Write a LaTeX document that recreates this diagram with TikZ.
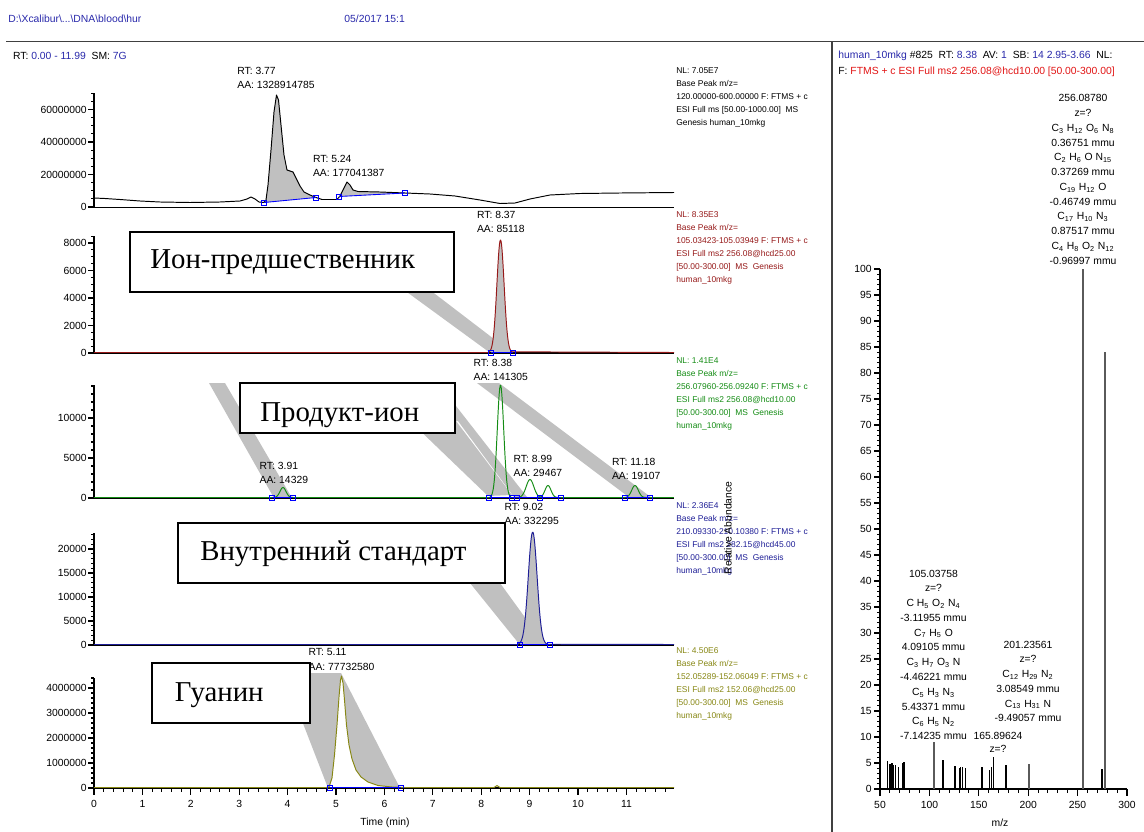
\documentclass[tikz,border=0pt]{standalone}
\usepackage{fontspec}
\setmainfont{Liberation Sans}
\newfontfamily\rufont{Liberation Serif}
\usepackage{tikz}
\usetikzlibrary{positioning}
\definecolor{xcBlue}{RGB}{40,40,170}
\definecolor{xcRed}{RGB}{150,25,25}
\definecolor{xcSpecRed}{RGB}{225,20,20}
\definecolor{xcGreen}{RGB}{20,140,20}
\definecolor{xcNavy}{RGB}{30,30,150}
\definecolor{xcOlive}{RGB}{135,135,20}
\definecolor{xcMark}{RGB}{0,0,255}
\definecolor{xcBand}{RGB}{192,192,192}
\definecolor{xcStick}{RGB}{90,90,90}
\newcommand{\ix}[1]{\textsubscript{#1}}
\newcommand{\intbox}[2]{\draw[intmark] ({#1-2.5},{#2-2.5}) rectangle ({#1+2.5},{#2+2.5});}

\begin{document}
\begin{tikzpicture}[x=0.02cm, y=-0.02cm,
    every node/.style={inner sep=0pt, font=\fontsize{5.9}{8.1}\selectfont},
    info/.style={font=\fontsize{4.8}{7.4}\selectfont, align=left, anchor=north west},
    pklbl/.style={align=left, anchor=north west},
    annot/.style={font=\fontsize{5.9}{8.4}\selectfont, align=center, anchor=north},
    callout/.style={draw=black, line width=1.1pt, fill=white},
    rutext/.style={font=\rufont\fontsize{16.4}{20}\selectfont, anchor=base west},
    band/.style={fill=xcBand},
    axisln/.style={line width=0.6pt, black},
    trace/.style={line width=0.55pt, line join=round},
    intmark/.style={draw=xcMark, line width=0.5pt},
    stick/.style={line width=0.6pt}
]
\useasboundingbox (0,0) rectangle (1144,832);

% header
\node[anchor=west, text=xcBlue] (hdrPath) at (8,19) {D:\textbackslash Xcalibur\textbackslash ...\textbackslash DNA\textbackslash blood\textbackslash hur};
\node[anchor=west, text=xcBlue] (hdrDate) at (344,19) {05/2017 15:1};
\draw[line width=0.8pt, black!75] (6,41.7) -- (1144,41.7);
\draw[line width=0.8pt, black!75] (832,41.7) -- (832,832);
\node[anchor=west] (hdrRange) at (12.7,56) {RT:~\textcolor{xcBlue}{0.00 - 11.99}~~SM:~\textcolor{xcBlue}{7G}};
\node[anchor=west] (specHdr) at (838,55.7) {\textcolor{xcBlue}{human\_10mkg} \#825~~RT:~\textcolor{xcBlue}{8.38}~~AV:~\textcolor{xcBlue}{1}~~SB:~\textcolor{xcBlue}{14 2.95-3.66}~~NL:};
\node[anchor=west] (specScan) at (838,71.7) {F:~\textcolor{xcSpecRed}{FTMS + c ESI Full ms2 256.08@hcd10.00 [50.00-300.00]}};

% callout bands
\fill[band] (400,287) -- (426,287) -- (511,352) -- (489,352) -- cycle;
\fill[band] (209,383) -- (225,383) -- (292,498) -- (274,498) -- cycle;
\fill[band] (410,421) -- (456,421) -- (512,495) -- (488,496) -- cycle;
\fill[band] (455,404.7) -- (527,497) -- (514,497) -- (458,421) -- (455,421) -- cycle;
\fill[band] (477,383) -- (499,383) -- (652,498) -- (630,498) -- cycle;
\fill[band] (470,583) -- (500,583) -- (545,645) -- (520,645) -- cycle;
\fill[band] (283.5,673) -- (341,673) -- (400,788) -- (328,788) -- cycle;

% panel 1
\draw[axisln] (94,93) -- (94,207.5) -- (674,207.5);
\foreach \k in {0,...,14} {\draw[axisln] (91,{207-8.125*\k}) -- (94,{207-8.125*\k});}
\foreach \k/\t in {0/0,1/20000000,2/40000000,3/60000000} {
  \draw[axisln] (88,{207-32.5*\k}) -- (94,{207-32.5*\k});
  \node[anchor=east] (pa\k) at (87,{207-32.5*\k}) {\t};
}
\fill[xcBand] (264,202.5) -- (266,200) -- (268,185) -- (271,150) -- (274,112) -- (276.5,95) -- (278.5,100) -- (281,125) -- (284,155) -- (287,170) -- (290,171) -- (293,172) -- (296,178) -- (300,186) -- (304,192) -- (310,195) -- (316,197.5) -- cycle;
\fill[xcBand] (339,196.5) -- (340,196) -- (343,190) -- (347,182) -- (350,185) -- (353,190) -- (358,191.5) -- (380,192) -- (405,193) -- cycle;
\draw[trace] (94,198) -- (105,198.5) -- (120,199.5) -- (140,201) -- (160,202) -- (190,202.5) -- (220,202) -- (240,201) -- (247,199) -- (251,197) -- (255,199) -- (259,202) -- (264,202.5) -- (266,200) -- (268,185) -- (271,150) -- (274,112) -- (276.5,95) -- (278.5,100) -- (281,125) -- (284,155) -- (287,170) -- (290,171) -- (293,172) -- (296,178) -- (300,186) -- (304,192) -- (310,195) -- (316,197.5) -- (322,199.5) -- (337,199.5) -- (340,196) -- (343,190) -- (347,182) -- (350,185) -- (353,190) -- (358,191.5) -- (380,192) -- (405,193) -- (430,194) -- (455,196) -- (480,200) -- (500,203.5) -- (515,203) -- (530,199) -- (550,195) -- (580,193.5) -- (620,193) -- (674,192.5);
\draw[intmark] (264,202.5) -- (316,197.5);
\draw[intmark] (339,196.5) -- (405,193);
\intbox{264}{202.5} \intbox{316}{197.5} \intbox{339}{196.5} \intbox{405}{193}

% panel 2
\draw[axisln] (94,236) -- (94,353) -- (674,353);
\foreach \k in {0,...,17} {\draw[axisln] (91,{353-6.875*\k}) -- (94,{353-6.875*\k});}
\foreach \k/\t in {0/0,1/2000,2/4000,3/6000,4/8000} {
  \draw[axisln] (88,{353-27.5*\k}) -- (94,{353-27.5*\k});
  \node[anchor=east] (pb\k) at (87,{353-27.5*\k}) {\t};
}
\fill[xcBand] plot[domain=491:511, samples=41] (\x,{352.5-112.5*exp(-0.5*((\x-500.5)/3.6)^2)}) -- cycle;
\draw[trace, xcRed] (94,352.5) -- (489,352.5) -- plot[domain=489:512, samples=47] (\x,{352.5-112.5*exp(-0.5*((\x-500.5)/3.6)^2)}) -- (674,352.5);
\draw[intmark] (491,352.5) -- (513,352.5);
\intbox{491}{352.5} \intbox{513}{352.5}

% panel 3
\draw[axisln] (94,385) -- (94,498) -- (674,498);
\foreach \k in {0,...,14} {\draw[axisln] (91,{498-8*\k}) -- (94,{498-8*\k});}
\foreach \k/\t in {0/0,1/5000,2/10000} {
  \draw[axisln] (88,{498-40*\k}) -- (94,{498-40*\k});
  \node[anchor=east] (pc\k) at (87,{498-40*\k}) {\t};
}
\draw[trace, xcGreen] (94,497.5) -- (674,497.5);
\foreach \c/\h/\s/\a/\b in {283/10/3/273/293, 500.5/112.5/3.2/490/511, 530/18/3.8/518/542, 548/12/3/538/558, 635/12/3.3/624/646} {
  \draw[trace, xcGreen] plot[domain=\a:\b, samples=40] (\x,{497.5-\h*exp(-0.5*((\x-\c)/\s)^2)});
}
\draw[intmark] (272,497.5) -- (293,497.5);
\draw[intmark] (489,497.5) -- (561,497.5);
\draw[intmark] (625,497.5) -- (650,497.5);
\foreach \m in {272,293,489,512,517,540,561,625,650} {\intbox{\m}{497.5}}

% panel 4
\draw[axisln] (94,533) -- (94,645) -- (674,645);
\foreach \k in {0,...,23} {\draw[axisln] (91,{645-4.8*\k}) -- (94,{645-4.8*\k});}
\foreach \k/\t in {0/0,1/5000,2/10000,3/15000,4/20000} {
  \draw[axisln] (88,{645-24*\k}) -- (94,{645-24*\k});
  \node[anchor=east] (pd\k) at (87,{645-24*\k}) {\t};
}
\fill[xcBand] plot[domain=520:547, samples=41] (\x,{644.5-112.5*exp(-0.5*((\x-532.7)/4.4)^2)}) -- cycle;
\draw[trace, xcNavy] (94,644.5) -- (518,644.5) -- plot[domain=518:548, samples=51] (\x,{644.5-112.5*exp(-0.5*((\x-532.7)/4.4)^2)}) -- (674,644.5);
\draw[intmark] (520,644.5) -- (550,644.5);
\intbox{520}{644.5} \intbox{550}{644.5}

% panel 5
\draw[axisln] (94,678) -- (94,788) -- (674,788);
\foreach \k in {0,...,22} {\draw[axisln] (91,{788-5*\k}) -- (94,{788-5*\k});}
\foreach \k/\t in {0/0,1/1000000,2/2000000,3/3000000,4/4000000} {
  \draw[axisln] (88,{788-25*\k}) -- (94,{788-25*\k});
  \node[anchor=east] (pe\k) at (87,{788-25*\k}) {\t};
}
\fill[white] (329,787) -- (332,778) -- (334.5,755) -- (337,725) -- (339,697) -- (340.5,680) -- (341.5,676) -- (343,683) -- (344.5,700) -- (346.5,725) -- (349,745) -- (352,759) -- (356,770) -- (361,777) -- (368,782) -- (378,785.5) -- (392,787) -- (400,787.5) -- cycle;
\draw[trace, xcOlive] (94,787.5) -- (326,787.5) -- (329,787) -- (332,778) -- (334.5,755) -- (337,725) -- (339,697) -- (340.5,680) -- (341.5,676) -- (343,683) -- (344.5,700) -- (346.5,725) -- (349,745) -- (352,759) -- (356,770) -- (361,777) -- (368,782) -- (378,785.5) -- (392,787) -- (405,787.5) -- (494,787.5) -- (497,785.5) -- (500,787.5) -- (674,787.5);
\draw[intmark] (330,787.5) -- (401,787.5);
\intbox{330}{787.5} \intbox{401}{787.5}

% time axis
\foreach \k in {0,...,59} {\draw[axisln] ({94+9.68*\k},788) -- ({94+9.68*\k},792);}
\foreach \k in {0,...,11} {
  \draw[axisln] ({94+48.4*\k},788) -- ({94+48.4*\k},795);
  \node (tx\k) at ({94+48.4*\k},804) {\k};
}
\node (timeLbl) at (385,822.5) {Time (min)};

% peak labels
\node[pklbl] (lbl377) at (237,67) {RT: 3.77\\AA: 1328914785};
\node[pklbl] (lbl524) at (312.7,155) {RT: 5.24\\AA: 177041387};
\node[pklbl] (lbl837) at (476.7,211) {RT: 8.37\\AA: 85118};
\node[pklbl] (lbl838) at (473.3,358.5) {RT: 8.38\\AA: 141305};
\node[pklbl] (lbl391) at (259.3,462) {RT: 3.91\\AA: 14329};
\node[pklbl] (lbl899) at (513.3,454.5) {RT: 8.99\\AA: 29467};
\node[pklbl] (lbl1118) at (611.7,458) {RT: 11.18\\AA: 19107};
\node[pklbl] (lbl902) at (504.3,503) {RT: 9.02\\AA: 332295};
\node[pklbl] (lbl511) at (308.3,648.5) {RT: 5.11\\AA: 77732580};

% trace info
\node[info] (info1) at (676,67) {NL: 7.05E7\\Base Peak m/z=\\120.00000-600.00000 F: FTMS + c\\ESI Full ms [50.00-1000.00]~~MS\\Genesis human\_10mkg};
\node[info, text=xcRed] (info2) at (676,211) {NL: 8.35E3\\Base Peak m/z=\\105.03423-105.03949 F: FTMS + c\\ESI Full ms2 256.08@hcd25.00\\{[}50.00-300.00]~~MS~~Genesis\\human\_10mkg};
\node[info, text=xcGreen] (info3) at (676,357.7) {NL: 1.41E4\\Base Peak m/z=\\256.07960-256.09240 F: FTMS + c\\ESI Full ms2 256.08@hcd10.00\\{[}50.00-300.00]~~MS~~Genesis\\human\_10mkg};
\node[info, text=xcNavy] (info4) at (676,502.7) {NL: 2.36E4\\Base Peak m/z=\\210.09330-210.10380 F: FTMS + c\\ESI Full ms2 282.15@hcd45.00\\{[}50.00-300.00]~~MS~~Genesis\\human\_10mkg};
\node[info, text=xcOlive] (info5) at (676,647.7) {NL: 4.50E6\\Base Peak m/z=\\152.05289-152.06049 F: FTMS + c\\ESI Full ms2 152.06@hcd25.00\\{[}50.00-300.00]~~MS~~Genesis\\human\_10mkg};
\node[rotate=90] (relAb) at (728,528) {Relative Abundance};

% callout boxes
\draw[callout] (130,232) rectangle (454,292);
\node[rutext] (txtPrec) at (150,268) {Ион-предшественник};
\draw[callout] (240,383) rectangle (455,433);
\node[rutext] (txtProd) at (260,421.7) {Продукт-ион};
\draw[callout] (178,523) rectangle (505,583);
\node[rutext] (txtIstd) at (200,560.7) {Внутренний стандарт};
\draw[callout] (152,663) rectangle (310,723);
\node[rutext] (txtGua) at (174.6,701.7) {Гуанин};

% spectrum axes
\draw[axisln] (880,269) -- (880,789) -- (1127,789);
\foreach \k in {0,...,100} {\draw[axisln] (877,{789-5.2*\k}) -- (880,{789-5.2*\k});}
\foreach \k in {0,...,20} {
  \draw[axisln] (874,{789-26*\k}) -- (880,{789-26*\k});
  \pgfmathtruncatemacro\lab{5*\k}
  \node[anchor=east] (sy\k) at (872,{789-26*\k}) {\lab};
}
\foreach \k in {0,...,25} {\draw[axisln] ({880+9.88*\k},789) -- ({880+9.88*\k},793);}
\foreach \k in {0,...,5} {
  \draw[axisln] ({880+49.4*\k},789) -- ({880+49.4*\k},796);
  \pgfmathtruncatemacro\lab{50+50*\k}
  \node (sx\k) at ({880+49.4*\k},805) {\lab};
}
\node (mzLbl) at (1000,823) {m/z};

% spectrum sticks
\foreach \p/\h in {887.3/5.3, 890/4.9, 892/5, 893.7/4.6, 895.7/4.6, 898.3/4.3, 903/5, 904/5.1, 943/5.6, 955/4.4, 959.3/4, 960.7/4.2, 962.3/4.2, 965.3/4, 982/4.3, 989.7/3.7, 991.7/4.3, 993.3/6.1, 1006/4.7, 1102/3.8} {
  \draw[stick] (\p,789) -- (\p,{789-5.2*\h});
}
\foreach \p/\h in {934/9, 1029/4.9, 1083/100, 1105/84} {
  \draw[stick, xcStick] (\p,789) -- (\p,{789-5.2*\h});
}

% spectrum annotations
\node[annot] (ann256) at (1083,94.3) {256.08780\\z=?\\C\ix{3} H\ix{12} O\ix{6} N\ix{8}\\0.36751 mmu\\C\ix{2} H\ix{6} O N\ix{15}\\0.37269 mmu\\C\ix{19} H\ix{12} O\\-0.46749 mmu\\C\ix{17} H\ix{10} N\ix{3}\\0.87517 mmu\\C\ix{4} H\ix{8} O\ix{2} N\ix{12}\\-0.96997 mmu};
\node[annot] (ann105) at (933.5,569.6) {105.03758\\z=?\\C H\ix{5} O\ix{2} N\ix{4}\\-3.11955 mmu\\C\ix{7} H\ix{5} O\\4.09105 mmu\\C\ix{3} H\ix{7} O\ix{3} N\\-4.46221 mmu\\C\ix{5} H\ix{3} N\ix{3}\\5.43371 mmu\\C\ix{6} H\ix{5} N\ix{2}\\-7.14235 mmu};
\node[annot] (ann201) at (1028,640.6) {201.23561\\z=?\\C\ix{12} H\ix{29} N\ix{2}\\3.08549 mmu\\C\ix{13} H\ix{31} N\\-9.49057 mmu};
\node[annot] (ann166) at (998,732) {165.89624};
\node[annot] (zq166) at (998,745.3) {z=?};
\end{tikzpicture}
\end{document}
